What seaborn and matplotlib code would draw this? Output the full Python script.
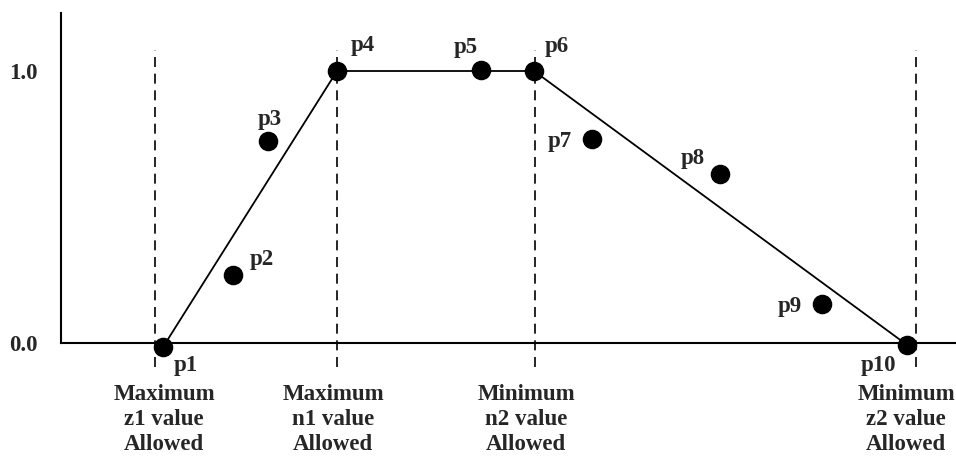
import matplotlib
matplotlib.use("Agg")
import matplotlib.pyplot as plt
import seaborn as sns
import pandas as pd

# point positions (x in arbitrary units, y membership value)
point_names = ["p1", "p2", "p3", "p4", "p5", "p6", "p7", "p8", "p9", "p10"]
point_x = [1.02, 1.72, 2.07, 2.76, 4.20, 4.73, 5.31, 6.59, 7.61, 8.46]
point_y = [-0.015, 0.25, 0.743, 1.0, 1.005, 1.0, 0.75, 0.62, 0.143, -0.007]

# trapezoid corners
trap_x = [1.02, 2.76, 4.73, 8.46]
trap_y = [-0.015, 1.0, 1.0, -0.007]

# vertical limit markers
limit_x = [0.94, 2.76, 4.74, 8.55]
limit_label_x = [1.03, 2.72, 4.65, 8.45]
limit_labels = [
    "Maximum\nz1 value\nAllowed",
    "Maximum\nn1 value\nAllowed",
    "Minimum\nn2 value\nAllowed",
    "Minimum\nz2 value\nAllowed",
]

# label offsets from each point (pixels)
label_dx = [23, 29, 2, 26, -15, 23, -32, -27, -32, -29]
label_dy = [-18, 15, 21, 25, 22, 24, -3, 16, -2, -21]

sns.set_style("white")
plt.rcParams["font.family"] = ["Liberation Serif", "DejaVu Serif"]
plt.rcParams["font.weight"] = "bold"

fig = plt.figure(figsize=(9.56, 4.57), dpi=100)
ax = fig.add_axes([61 / 956, 114 / 457, 895 / 956, 330 / 457])

df = pd.DataFrame({"x": point_x, "y": point_y, "name": point_names})
trap = pd.DataFrame({"x": trap_x, "y": trap_y})

for lx in limit_x:
    ax.plot([lx, lx], [-0.088, 1.077], color="black", linestyle=(0, (6, 4)),
            linewidth=1.2, clip_on=False, zorder=1)

sns.lineplot(data=trap, x="x", y="y", color="black", linewidth=1.3,
             sort=False, ax=ax, zorder=2)
sns.scatterplot(data=df, x="x", y="y", color="black", s=170,
                edgecolor="black", ax=ax, zorder=3, clip_on=False)

for name, px, py, dx, dy in zip(point_names, point_x, point_y, label_dx, label_dy):
    ax.annotate(name, (px, py), xytext=(dx * 0.72, dy * 0.72),
                textcoords="offset points", ha="center", va="center",
                fontsize=16.5, fontweight="bold", annotation_clip=False)

for lx, lab in zip(limit_label_x, limit_labels):
    ax.text(lx, -0.15, lab, ha="center", va="top", fontsize=16.5,
            fontweight="bold", linespacing=1.27, clip_on=False)

ax.set_xlim(0, 8.95)
ax.set_ylim(0, 330 / 272)
ax.set_xticks([])
ax.set_yticks([0.0, 1.0])
ax.set_yticklabels(["0.0", "1.0"], fontsize=16.5, fontweight="bold")
ax.tick_params(axis="y", direction="inout", length=15, width=1.5, pad=9)
ax.yaxis.get_major_ticks()[0].tick1line.set_visible(False)
ax.set_xlabel("")
ax.set_ylabel("")

for side in ["top", "right"]:
    ax.spines[side].set_visible(False)
for side in ["left", "bottom"]:
    ax.spines[side].set_linewidth(1.5)
    ax.spines[side].set_color("black")

fig.savefig("out.png", dpi=100)
